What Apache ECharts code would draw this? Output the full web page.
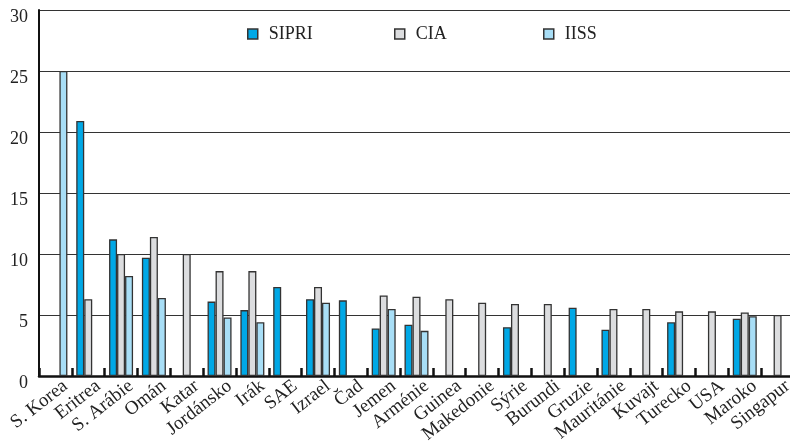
<!DOCTYPE html>
<html>
<head>
<meta charset="utf-8">
<script src="https://cdn.jsdelivr.net/npm/echarts@6/dist/echarts.min.js"></script>
<style>
html, body { margin: 0; padding: 0; background: #fff; }
#chart { width: 790px; height: 443px; }
</style>
</head>
<body>
<div id="chart"></div>
<script>
var countries = ['S. Korea', 'Eritrea', 'S. Arábie', 'Omán', 'Katar', 'Jordánsko', 'Irák', 'SAE', 'Izrael', 'Čad',
  'Jemen', 'Arménie', 'Guinea', 'Makedonie', 'Sýrie', 'Burundi', 'Gruzie', 'Mauritánie', 'Kuvajt', 'Turecko',
  'USA', 'Maroko', 'Singapur'];
var sipri = [null, 20.9, 11.2, 9.7, null, 6.1, 5.4, 7.3, 6.3, 6.2,
  3.9, 4.2, null, null, 4.0, null, 5.6, 3.8, null, 4.4,
  null, 4.7, null];
var cia = [null, 6.3, 10.0, 11.4, 10.0, 8.6, 8.6, null, 7.3, null,
  6.6, 6.5, 6.3, 6.0, 5.9, 5.9, null, 5.5, 5.5, 5.3,
  5.3, 5.2, 5.0];
var iiss = [25.0, null, 8.2, 6.4, null, 4.8, 4.4, null, 6.0, null,
  5.5, 3.7, null, null, null, null, null, null, null, null,
  null, 4.9, null];
var yTicks = [0, 5, 10, 15, 20, 25, 30];

var seriesNames = ['SIPRI', 'CIA', 'IISS'];
var seriesColors = ['#00a8e6', '#dcdddf', '#a8def6'];
var seriesData = [sipri, cia, iiss];
var legendLeft = [247, 394, 543];

var serif = '"Liberation Serif", "DejaVu Serif", serif';

var chart = echarts.init(document.getElementById('chart'));

var legends = seriesNames.map(function (name, i) {
  return {
    data: [name],
    left: legendLeft[i],
    top: 25,
    padding: 0,
    icon: 'rect',
    itemWidth: 10,
    itemHeight: 10,
    itemStyle: { borderColor: '#333', borderWidth: 1.5 },
    textStyle: { fontFamily: serif, fontSize: 18, color: '#222', padding: [0, 0, 0, 6] }
  };
});

var series = seriesNames.map(function (name, i) {
  return {
    name: name,
    type: 'bar',
    data: seriesData[i],
    barWidth: 8,
    barGap: 0,
    itemStyle: { color: seriesColors[i], borderColor: '#333', borderWidth: 1.3 }
  };
});

// second grid only carries the category labels, shifted a little right like the original
chart.setOption({
  animation: false,
  legend: legends,
  grid: [
    { left: 39, top: 10, width: 755, bottom: 67, outerBoundsMode: 'none' },
    { left: 49, top: 10, width: 755, bottom: 67, outerBoundsMode: 'none' }
  ],
  xAxis: [{
    type: 'category',
    gridIndex: 0,
    data: countries,
    axisLine: { lineStyle: { color: '#111', width: 2.5 } },
    axisTick: { show: true, interval: 0, inside: true, length: 8, lineStyle: { color: '#111', width: 2.5 } },
    axisLabel: { show: false }
  }, {
    type: 'category',
    gridIndex: 1,
    data: countries,
    axisLine: { show: false },
    axisTick: { show: false },
    axisLabel: {
      interval: 0,
      rotate: 38,
      margin: 8,
      fontFamily: serif,
      fontSize: 19,
      color: '#222'
    }
  }],
  yAxis: [{
    type: 'value',
    gridIndex: 0,
    min: yTicks[0],
    max: yTicks[yTicks.length - 1],
    interval: 5,
    axisLine: { show: true, lineStyle: { color: '#111', width: 2 } },
    axisTick: { show: false },
    splitLine: { lineStyle: { color: '#333', width: 1.2 } },
    axisLabel: { fontFamily: serif, fontSize: 18, color: '#222', margin: 11, verticalAlign: 'top', lineHeight: 14 }
  }, {
    type: 'value',
    gridIndex: 1,
    show: false,
    min: 0,
    max: 30
  }],
  series: series
});
</script>
</body>
</html>
